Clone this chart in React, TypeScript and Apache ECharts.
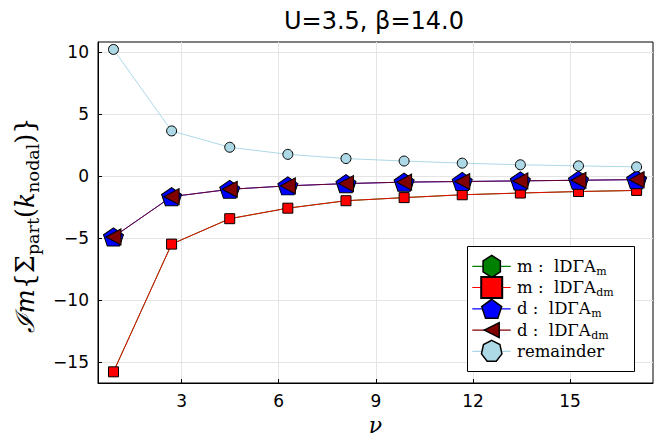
import React, { useEffect, useRef } from 'react';
import * as echarts from 'echarts';

// ---- data ----
const nu = [0.898, 2.693, 4.488, 6.283, 8.078, 9.874, 11.669, 13.464, 15.259, 17.054];
const mLDGAm = [-15.8, -5.5, -3.45, -2.6, -2.0, -1.75, -1.52, -1.38, -1.26, -1.17];
const mLDGAdm = [-15.8, -5.5, -3.45, -2.6, -2.0, -1.75, -1.52, -1.38, -1.26, -1.17];
const dLDGAm = [-4.92, -1.67, -1.08, -0.8, -0.62, -0.5, -0.45, -0.4, -0.35, -0.3];
const dLDGAdm = [-4.92, -1.67, -1.08, -0.8, -0.62, -0.5, -0.45, -0.4, -0.35, -0.3];
const remainder = [10.2, 3.63, 2.31, 1.74, 1.4, 1.2, 1.03, 0.9, 0.81, 0.73];
const xTicks = [3, 6, 9, 12, 15];
const yTicks = [-15, -10, -5, 0, 5, 10];
const legendMain = ['m :  lDΓA', 'm :  lDΓA', 'd :  lDΓA', 'd :  lDΓA', 'remainder'];
const legendSub = ['m', 'dm', 'm', 'dm', ''];
const titleText = 'U=3.5, β=14.0';
// y-axis label pieces: [text, italic, subscript]
const yLabelPieces: [string, boolean, boolean][] = [
  ['ℐm', true, false],
  ['{', false, false],
  ['Σ', false, false],
  ['part', false, true],
  ['(', false, false],
  ['k', true, false],
  ['nodal', false, true],
  [')', false, false],
  ['}', false, false],
];

const hexPath = 'path://M0,-1 L0.866,-0.5 L0.866,0.5 L0,1 L-0.866,0.5 L-0.866,-0.5 Z';
const pentPath = 'path://M0,-1 L0.951,-0.309 L0.588,0.809 L-0.588,0.809 L-0.951,-0.309 Z';
const triLeftPath = 'path://M-1,0 L1,-1 L1,1 Z';

function regPoly(cx: number, cy: number, rx: number, ry: number, n: number, start: number) {
  const pts: number[][] = [];
  for (let k = 0; k < n; k++) {
    const a = ((start + (k * 360) / n) * Math.PI) / 180;
    pts.push([cx + rx * Math.cos(a), cy + ry * Math.sin(a)]);
  }
  return pts;
}

export default function App() {
  const ref = useRef<HTMLDivElement>(null);
  useEffect(() => {
    if (!ref.current) return;
    const chart = echarts.init(ref.current, undefined, { renderer: 'svg' });
    const serif = 'DejaVu Serif';
    const sans = 'DejaVu Sans';
    const mk = (ys: number[]) => nu.map((x, i) => [x, ys[i]]);
    const textW = (t: string, size: number, italic = false) =>
      (echarts.format as any).getTextRect
        ? (echarts.format as any).getTextRect(t, `${italic ? 'italic ' : ''}${size}px ${serif}`).width
        : t.length * size * 0.6;

    const colors = ['#008000', '#ff0000', '#0000ff', '#800000', '#add8e6'];
    const lx0 = 472.3, lx1 = 510.7, mcx = 491.7, tx = 517;
    const rowY = [266.3, 287.5, 308.8, 330.1, 351.4];
    const graphicEls: any[] = [
      { type: 'rect', shape: { x: 467.5, y: 246.5, width: 167, height: 125 }, style: { fill: '#fff', stroke: '#000', lineWidth: 1 }, z: 10 },
    ];
    const markerFor = (i: number, cy: number) => {
      const st = { fill: colors[i], stroke: '#000', lineWidth: 1.5 };
      if (i === 0) return { type: 'polygon', shape: { points: regPoly(mcx, cy, 10, 11, 6, -90) }, style: st, z: 11 };
      if (i === 1) return { type: 'rect', shape: { x: mcx - 10.5, y: cy - 10.5, width: 21, height: 21 }, style: { ...st, lineWidth: 2 }, z: 11 };
      if (i === 2) return { type: 'polygon', shape: { points: regPoly(mcx, cy + 1, 10.5, 10.5, 5, -90) }, style: st, z: 11 };
      if (i === 3) return { type: 'polygon', shape: { points: [[mcx - 7.5, cy], [mcx + 7.5, cy - 7.5], [mcx + 7.5, cy + 7.5]] }, style: st, z: 11 };
      return { type: 'polygon', shape: { points: regPoly(mcx, cy, 10.5, 11, 7, -90) }, style: st, z: 11 };
    };
    const legFont = 16.5;
    for (let i = 0; i < 5; i++) {
      const cy = rowY[i];
      graphicEls.push({ type: 'line', shape: { x1: lx0, y1: cy, x2: lx1, y2: cy }, style: { stroke: colors[i], lineWidth: 1.2 }, z: 11 });
      graphicEls.push(markerFor(i, cy));
      graphicEls.push({
        type: 'text', x: tx, y: cy, z: 11,
        style: { text: legendMain[i], fontFamily: serif, fontSize: legFont, fill: '#000', verticalAlign: 'middle', align: 'left' },
      });
      if (legendSub[i]) {
        const w = textW(legendMain[i], legFont);
        graphicEls.push({
          type: 'text', x: tx + w + 0.5, y: cy + 5, z: 11,
          style: { text: legendSub[i], fontFamily: serif, fontSize: 11, lineHeight: 10, fill: '#000', verticalAlign: 'middle', align: 'left' },
        });
      }
    }

    // y-axis label, rotated
    const yMain = 25.5, ySub = 17.5;
    const widths = yLabelPieces.map(([t, it, sub]) => textW(t, sub ? ySub : yMain, it));
    const total = widths.reduce((a: number, b: number) => a + b, 0);
    let cur = -total / 2;
    const yChildren: any[] = [];
    yLabelPieces.forEach(([t, it, sub], k) => {
      yChildren.push({
        type: 'text', x: cur, y: sub ? 8 : 0,
        style: {
          text: t, fontFamily: serif, fontSize: sub ? ySub : yMain, fontStyle: it ? 'italic' : 'normal',
          fill: '#000', align: 'left', verticalAlign: 'middle',
        },
      });
      cur += widths[k];
    });
    graphicEls.push({ type: 'group', x: 25, y: 225, rotation: Math.PI / 2, children: yChildren });

    const lineBase = (name: string, color: string, data: number[], extra: any) => ({
      name,
      type: 'line',
      data: mk(data),
      lineStyle: { color, width: 1 },
      itemStyle: { color, borderColor: '#000', borderWidth: 1 },
      emphasis: { disabled: true },
      ...extra,
    });
    const minusFmt = (v: number) => String(v).replace('-', '\u2212');

    chart.setOption({
      animation: false,
      title: {
        text: titleText,
        left: 374,
        top: 21,
        textAlign: 'center',
        textVerticalAlign: 'middle',
        padding: 0,
        textStyle: { fontFamily: sans, fontSize: 24, fontWeight: 'normal', color: '#000' },
      },
      grid: {
        left: 98, right: 6, top: 42, bottom: 58, show: true, borderColor: '#000', borderWidth: 1,
        backgroundColor: 'transparent', outerBoundsMode: 'none', containLabel: false,
      },
      xAxis: {
        type: 'value',
        min: 0.42,
        max: 17.56,
        name: 'ν',
        nameLocation: 'middle',
        nameGap: 34,
        nameTextStyle: { fontFamily: serif, fontStyle: 'italic', fontSize: 22, lineHeight: 17, color: '#000' },
        axisLine: { show: true, onZero: false, lineStyle: { color: '#000', width: 1 } },
        axisTick: { show: true, inside: true, length: 4, customValues: xTicks, lineStyle: { color: '#000' } },
        axisLabel: { customValues: xTicks, fontFamily: sans, fontSize: 17, color: '#000', margin: 9, formatter: minusFmt },
        splitLine: { show: true, lineStyle: { color: '#e4e4e4', width: 1 } },
      },
      yAxis: {
        type: 'value',
        min: -16.7,
        max: 10.8,
        axisLine: { show: true, onZero: false, lineStyle: { color: '#000', width: 1 } },
        axisTick: { show: true, inside: true, length: 4, customValues: yTicks, lineStyle: { color: '#000' } },
        axisLabel: { customValues: yTicks, fontFamily: sans, fontSize: 17, color: '#000', margin: 9, formatter: minusFmt },
        splitLine: { show: true, lineStyle: { color: '#e4e4e4', width: 1 } },
      },
      series: [
        lineBase('m : lDΓA_m', colors[0], mLDGAm, { symbol: hexPath, symbolSize: 8, symbolKeepAspect: true }),
        lineBase('m : lDΓA_dm', colors[1], mLDGAdm, { symbol: 'rect', symbolSize: 10, lineStyle: { color: colors[1], width: 1, opacity: 0.9 } }),
        lineBase('d : lDΓA_m', colors[2], dLDGAm, { symbol: pentPath, symbolSize: [20, 19], symbolKeepAspect: true }),
        lineBase('d : lDΓA_dm', colors[3], dLDGAdm, { symbol: triLeftPath, symbolSize: [15, 16], lineStyle: { color: colors[3], width: 1, opacity: 0.85 } }),
        lineBase('remainder', colors[4], remainder, { symbol: 'circle', symbolSize: 10 }),
      ],
      graphic: graphicEls,
    });
    return () => chart.dispose();
  }, []);
  return <div ref={ref} style={{ position: 'fixed', left: 0, top: 0, width: 659, height: 441, background: '#fff' }} />;
}
